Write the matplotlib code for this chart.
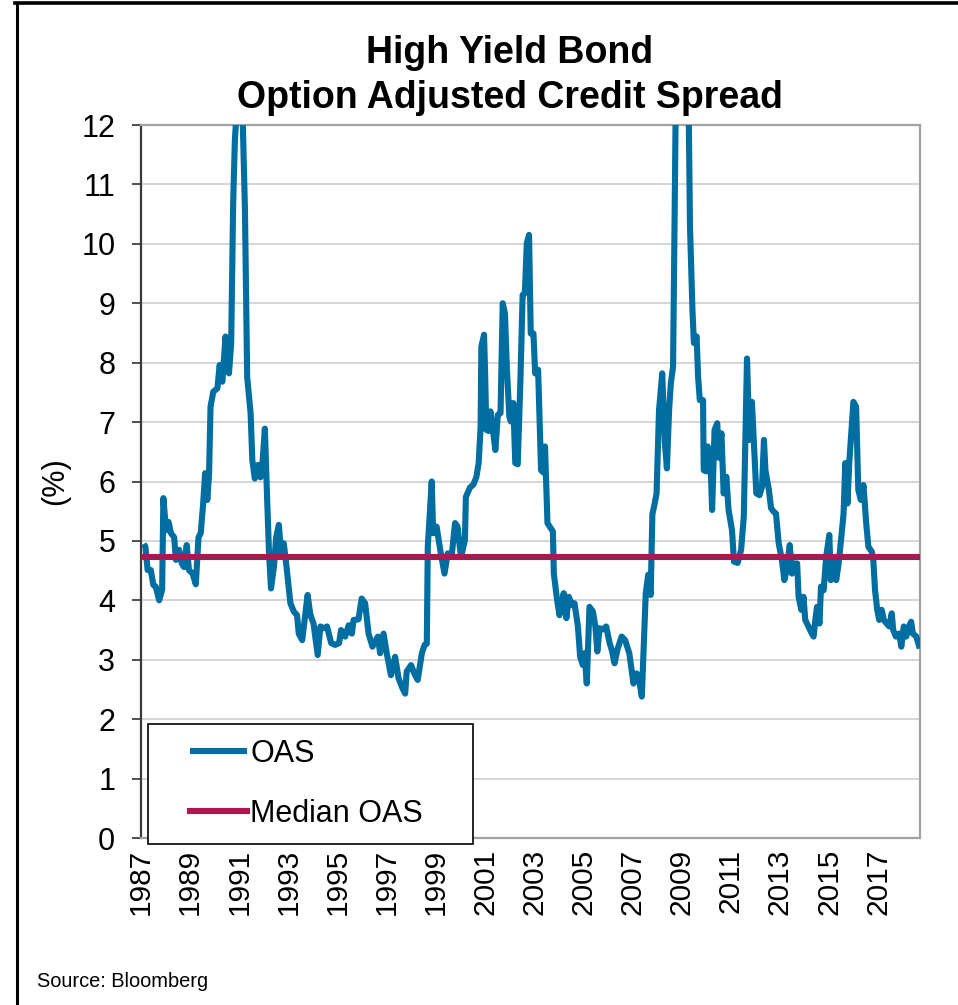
import numpy as np
import matplotlib
matplotlib.use("Agg")
import matplotlib.pyplot as plt
from matplotlib.legend_handler import HandlerLine2D
from matplotlib.lines import Line2D

plt.rcParams["font.family"] = ["Liberation Sans", "DejaVu Sans"]

# High-yield option-adjusted spread (%), decimal-year dates
dates = [
    1987.11, 1987.18, 1987.27, 1987.40, 1987.50, 1987.60, 1987.74, 1987.86, 1987.91,
    1988.02, 1988.12, 1988.22, 1988.35, 1988.42, 1988.55, 1988.66, 1988.75, 1988.86, 1988.95,
    1989.10, 1989.23, 1989.34, 1989.43, 1989.53, 1989.61, 1989.70, 1989.77, 1989.83, 1989.94,
    1990.11, 1990.20, 1990.31, 1990.44, 1990.58, 1990.67, 1990.75, 1990.82, 1990.92,
    1991.12, 1991.23, 1991.32, 1991.46, 1991.53, 1991.63, 1991.77, 1991.86, 1991.93,
    1992.04, 1992.13, 1992.21, 1992.29, 1992.41, 1992.50, 1992.61, 1992.70, 1992.81, 1992.92,
    1993.08, 1993.22, 1993.35, 1993.42, 1993.56, 1993.66, 1993.78, 1993.89,
    1994.02, 1994.19, 1994.30, 1994.43, 1994.57, 1994.74, 1994.90,
    1995.06, 1995.14, 1995.31, 1995.45, 1995.58, 1995.65, 1995.85, 1995.98,
    1996.12, 1996.26, 1996.42, 1996.64, 1996.73, 1996.87,
    1997.00, 1997.17, 1997.34, 1997.48, 1997.64, 1997.75, 1997.81, 1997.99,
    1998.12, 1998.26, 1998.43, 1998.54, 1998.63, 1998.67, 1998.83, 1998.89,
    1999.03, 1999.20, 1999.35, 1999.48, 1999.64, 1999.78, 1999.88,
    2000.02, 2000.18, 2000.22, 2000.39, 2000.53, 2000.65, 2000.74, 2000.82, 2000.85, 2000.96,
    2001.01, 2001.05, 2001.14, 2001.22, 2001.32, 2001.42, 2001.52, 2001.63, 2001.72, 2001.81, 2001.89, 2001.99,
    2002.05, 2002.15, 2002.23, 2002.33, 2002.44, 2002.53, 2002.62, 2002.70, 2002.79, 2002.86, 2002.97,
    2003.04, 2003.16, 2003.28, 2003.38, 2003.44, 2003.54, 2003.76, 2003.80, 2003.93,
    2004.03, 2004.12, 2004.20, 2004.31, 2004.41, 2004.54, 2004.64, 2004.78, 2004.87, 2004.98,
    2005.05, 2005.14, 2005.25, 2005.39, 2005.49, 2005.57, 2005.66, 2005.80, 2005.93,
    2006.07, 2006.16, 2006.27, 2006.40, 2006.56, 2006.70, 2006.87,
    2007.04, 2007.17, 2007.27, 2007.38, 2007.54, 2007.64, 2007.74, 2007.81, 2007.90, 2007.98,
    2008.08, 2008.21, 2008.32, 2008.40, 2008.49, 2008.56, 2008.65, 2008.69, 2008.86,
    2009.16, 2009.34, 2009.44, 2009.50, 2009.61, 2009.67, 2009.74, 2009.87, 2009.90,
    2010.01, 2010.06, 2010.17, 2010.24, 2010.34, 2010.45, 2010.51, 2010.62, 2010.71, 2010.82, 2010.91,
    2011.05, 2011.13, 2011.28, 2011.42, 2011.53, 2011.60, 2011.66, 2011.76, 2011.86, 2011.93,
    2012.04, 2012.17, 2012.27, 2012.35, 2012.41, 2012.55, 2012.64, 2012.75, 2012.84, 2012.95,
    2013.08, 2013.18, 2013.28, 2013.40, 2013.49, 2013.59, 2013.70, 2013.76, 2013.87, 2013.96,
    2014.03, 2014.16, 2014.26, 2014.37, 2014.44, 2014.51, 2014.61, 2014.67, 2014.78, 2014.88,
    2015.01, 2015.07, 2015.18, 2015.29, 2015.39, 2015.50, 2015.59, 2015.66, 2015.75, 2015.82, 2015.93, 2015.99,
    2016.10, 2016.19, 2016.29, 2016.40, 2016.51, 2016.60, 2016.74, 2016.80, 2016.87, 2016.96,
    2017.04, 2017.14, 2017.23, 2017.34, 2017.45, 2017.55, 2017.61, 2017.72, 2017.85, 2017.94,
    2018.04, 2018.14, 2018.25, 2018.34, 2018.41, 2018.55, 2018.69,
]
oas = [
    4.95, 4.90, 4.51, 4.51, 4.26, 4.23, 4.00, 4.18, 5.72,
    5.18, 5.32, 5.13, 5.06, 4.68, 4.85, 4.62, 4.56, 4.93, 4.51,
    4.45, 4.27, 5.06, 5.13, 5.63, 6.14, 5.69, 6.14, 7.26, 7.51,
    7.57, 7.96, 7.68, 8.44, 7.82, 8.33, 10.68, 11.75, 12.40,
    12.40, 10.57, 7.76, 7.15, 6.36, 6.05, 6.28, 6.07, 6.23,
    6.89, 5.74, 4.79, 4.20, 4.57, 5.06, 5.27, 4.79, 4.96, 4.57,
    3.95, 3.81, 3.75, 3.44, 3.33, 3.67, 4.09, 3.76,
    3.61, 3.08, 3.56, 3.53, 3.56, 3.28, 3.25,
    3.28, 3.50, 3.39, 3.58, 3.44, 3.67, 3.68, 4.03,
    3.95, 3.44, 3.22, 3.39, 3.11, 3.44,
    3.11, 2.74, 3.05, 2.69, 2.52, 2.43, 2.80, 2.91,
    2.77, 2.66, 3.11, 3.25, 3.27, 4.90, 6.00, 5.13,
    5.24, 4.79, 4.45, 4.79, 4.74, 5.30, 5.24,
    4.73, 5.01, 5.74, 5.90, 5.95, 6.08, 6.31, 6.92, 8.27, 8.47,
    7.71, 6.87, 6.85, 7.18, 6.87, 6.53, 7.12, 7.15, 9.00, 8.83, 7.88, 7.09,
    7.01, 7.32, 6.31, 6.29, 7.71, 9.14, 9.17, 10.01, 10.15, 8.49, 8.49,
    7.82, 7.88, 6.19, 6.15, 6.59, 5.30, 5.16, 4.45, 4.01,
    3.75, 3.93, 4.12, 3.70, 4.06, 3.92, 3.95, 3.56, 3.05, 2.91,
    3.11, 2.60, 3.89, 3.81, 3.56, 3.14, 3.53, 3.51, 3.56,
    3.28, 3.16, 2.94, 3.19, 3.39, 3.33, 3.11,
    2.60, 2.77, 2.66, 2.38, 4.12, 4.43, 4.09, 5.45, 5.62, 5.80,
    7.20, 7.82, 6.64, 6.22, 7.20, 7.65, 7.93, 9.45, 16.50,
    17.00, 10.29, 8.89, 8.33, 8.44, 7.76, 7.37, 7.37, 6.19,
    6.17, 6.59, 6.42, 5.52, 6.87, 6.98, 6.40, 6.81, 5.80, 6.08, 5.52,
    5.18, 4.65, 4.63, 4.85, 5.41, 6.87, 8.07, 6.70, 7.34, 6.75,
    5.80, 5.77, 5.91, 6.70, 6.19, 5.86, 5.55, 5.49, 5.46, 4.96,
    4.68, 4.34, 4.51, 4.93, 4.45, 4.62, 4.62, 4.06, 3.84, 4.06,
    3.67, 3.56, 3.47, 3.39, 3.67, 3.89, 3.61, 4.23, 4.17, 4.73,
    5.10, 4.34, 4.68, 4.34, 4.62, 5.07, 5.46, 6.31, 5.63, 6.31, 6.98, 7.34,
    7.26, 5.86, 5.69, 5.94, 5.30, 4.90, 4.82, 4.68, 4.17, 3.84,
    3.67, 3.84, 3.67, 3.61, 3.56, 3.78, 3.50, 3.39, 3.44, 3.22,
    3.56, 3.39, 3.56, 3.64, 3.44, 3.39, 3.19,
]
median_oas = 4.73

year_ticks = list(range(1987, 2018, 2))
y_ticks = list(range(0, 13))
series_labels = ["OAS", "Median OAS"]

OAS_BLUE = "#006EA1"
MEDIAN_RED = "#A61A50"

W, H = 958, 1005
fig = plt.figure(figsize=(W / 100, H / 100), dpi=100)
fig.patch.set_facecolor("white")

ax = fig.add_axes([141 / W, 1 - 838 / H, (920 - 141) / W, (838 - 125) / H])

oas_line, = ax.plot(dates, oas, color=OAS_BLUE, lw=4.4, solid_joinstyle="round",
                    solid_capstyle="butt", zorder=3)
median_line = ax.axhline(median_oas, color=MEDIAN_RED, lw=4.4, zorder=4)

ax.set_xlim(1987.11, 2018.70)
ax.set_ylim(0, 12)
ax.set_yticks(y_ticks)
ax.set_yticklabels([str(v) for v in y_ticks])
ax.set_xticks(year_ticks)
ax.set_xticklabels([str(y) for y in year_ticks], rotation=90)

ax.tick_params(axis="x", length=0, pad=7.5, labelsize=21.5, colors="black")
ax.tick_params(axis="y", length=6.5, width=1.3, pad=12, labelsize=22,
               direction="out", color="#404040")

ax.grid(axis="y", color="#CACACA", lw=1.1)
ax.set_axisbelow(True)

for side in ("top", "right", "bottom"):
    ax.spines[side].set_color("#A3A3A3")
    ax.spines[side].set_linewidth(1.6)
ax.spines["left"].set_color("#3A3A3A")
ax.spines["left"].set_linewidth(1.6)

ax.set_ylabel("(%)", fontsize=22, rotation=90)
ax.yaxis.set_label_coords(-0.091, 0.5)


class InsetLineHandler(HandlerLine2D):
    """Legend line sample that starts a little way into the handle box."""

    def __init__(self, inset, **kw):
        super().__init__(**kw)
        self.inset = inset

    def get_xdata(self, legend, xdescent, ydescent, width, height, fontsize):
        x0 = -xdescent + self.inset * fontsize
        x1 = -xdescent + width
        return np.array([x0, x1]), np.array([0.5 * (x0 + x1)])


leg = ax.legend(
    [oas_line, median_line], series_labels,
    loc="lower left",
    bbox_to_anchor=(148 / W, 1 - 844 / H, 325 / W, 132 / H),
    bbox_transform=fig.transFigure, mode="expand", borderaxespad=0,
    fontsize=22, frameon=True, fancybox=False, framealpha=1,
    edgecolor="black", borderpad=0.5, labelspacing=0.98,
    handlelength=2.75, handletextpad=0.1,
    handler_map={Line2D: InsetLineHandler(0.88)},
)
leg.get_frame().set_linewidth(1.2)
leg.set_zorder(10)

fig.text(510 / W, 1 - 63 / H, "High Yield Bond", ha="center", va="baseline",
         fontsize=27, fontweight="bold")
fig.text(510 / W, 1 - 108 / H, "Option Adjusted Credit Spread", ha="center",
         va="baseline", fontsize=27, fontweight="bold")

fig.text(37 / W, 1 - 987 / H, "Source: Bloomberg", ha="left", va="baseline",
         fontsize=14.4)

# frame around the exhibit
fig.add_artist(Line2D([16.5 / W, 16.5 / W], [0, 1 - 3 / H], transform=fig.transFigure,
                      color="black", lw=2.2))
fig.add_artist(Line2D([15.5 / W, 1], [1 - 3 / H, 1 - 3 / H], transform=fig.transFigure,
                      color="black", lw=2.6))

fig.savefig("out.png", dpi=100, facecolor="white")
